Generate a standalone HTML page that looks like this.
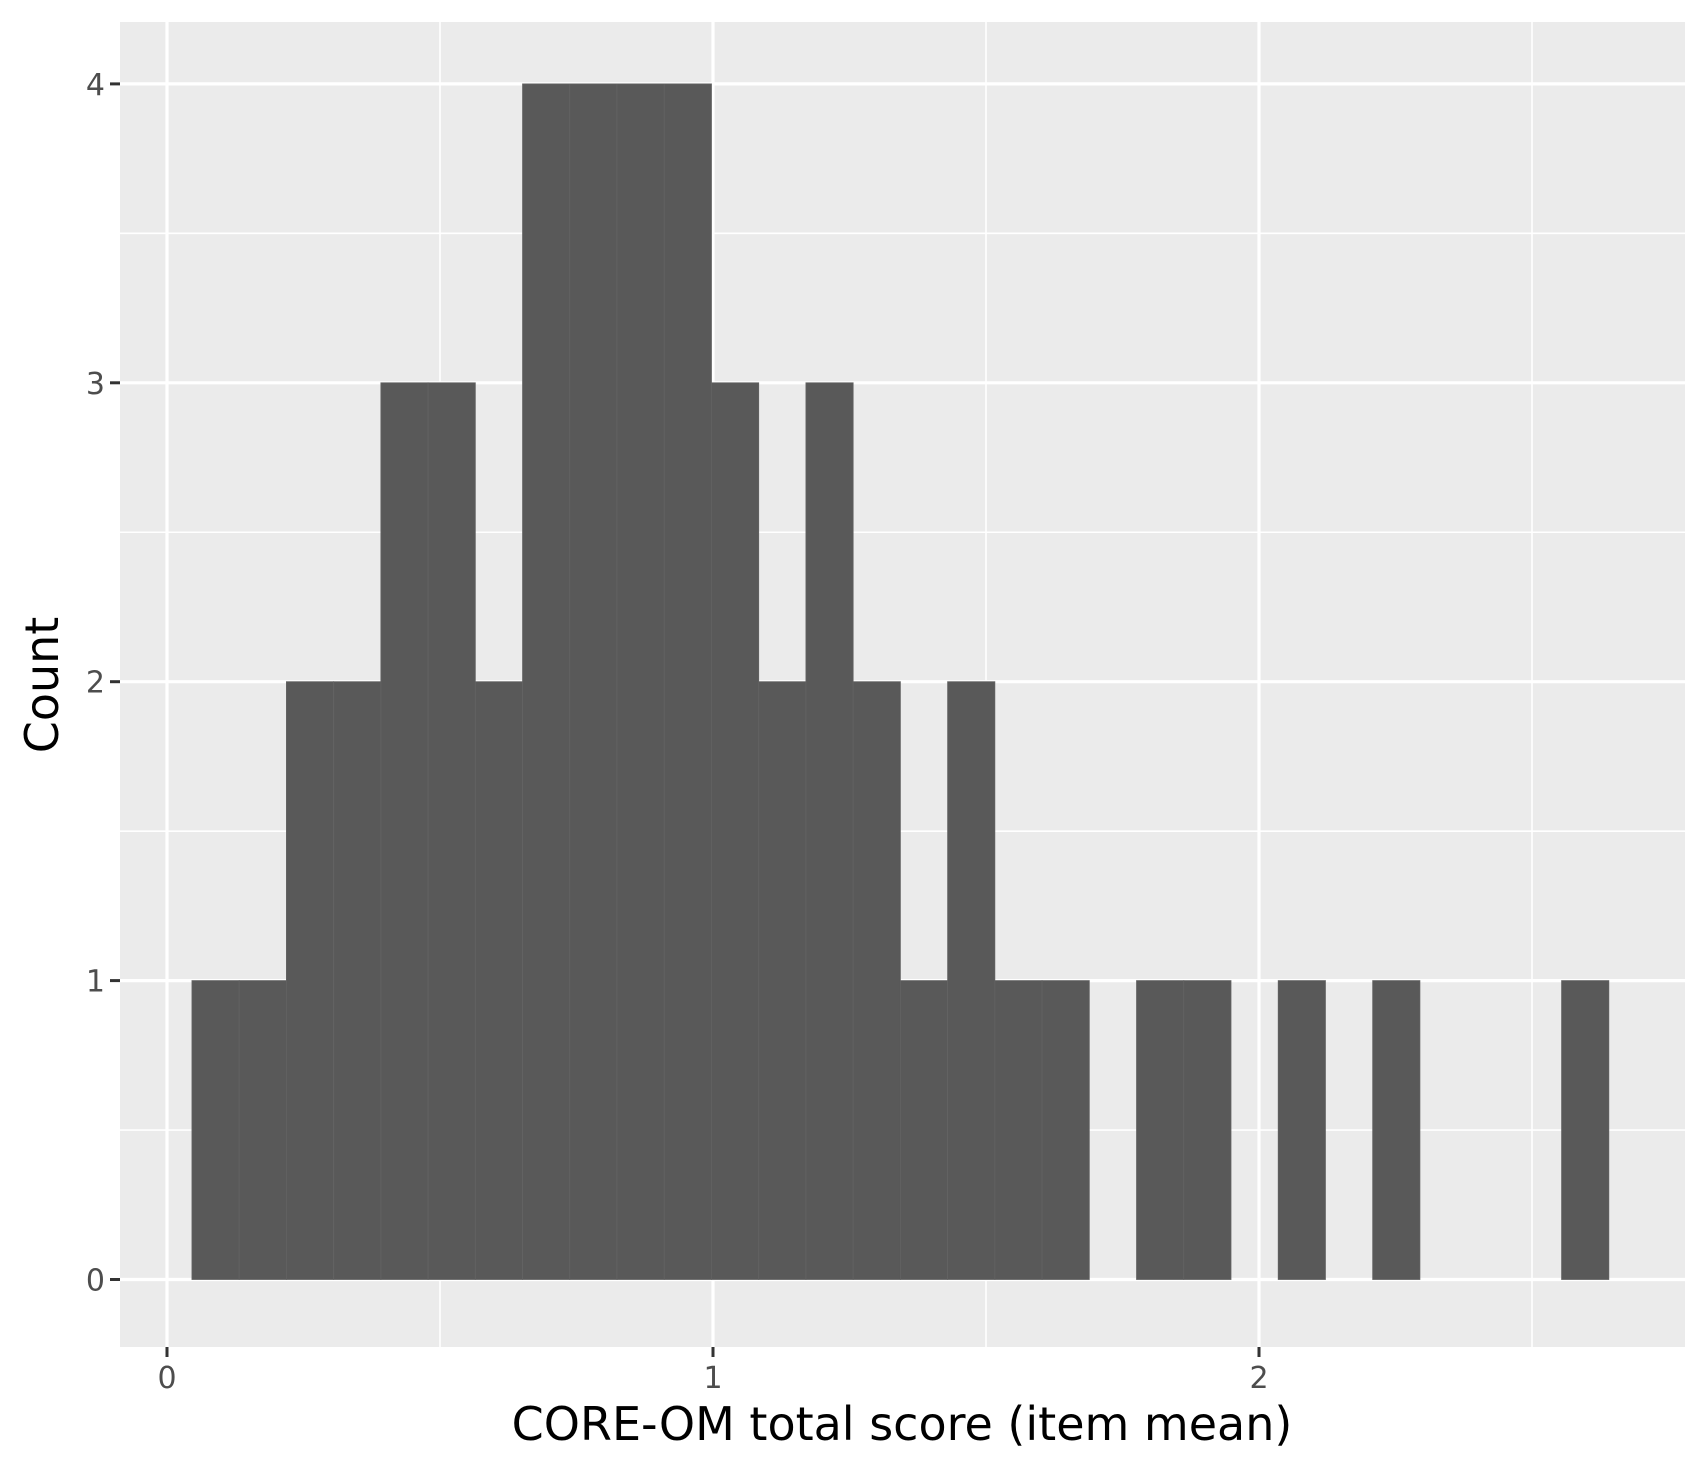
<!DOCTYPE html>
<html><head><meta charset="utf-8"><style>
html,body{margin:0;padding:0;background:#fff}
svg{display:block}
text{font-family:"DejaVu Sans","Liberation Sans",sans-serif}
</style></head><body>
<svg id="chart" width="1700" height="1470" viewBox="0 0 1700 1470" xmlns="http://www.w3.org/2000/svg">
<rect x="120" y="22" width="1565" height="1325" fill="#ebebeb"/>
<g id="grid"></g>
<g id="bars"></g>
<g id="axes"></g>
<text x="902" y="1440" font-size="46" text-anchor="middle" fill="#000">CORE-OM total score (item mean)</text>
<text transform="translate(58,685) rotate(-90)" font-size="46" text-anchor="middle" fill="#000">Count</text>
</svg>
<script>
const binStart = 0.0457;
const binWidth = 0.0865;
const counts = [1,1,2,2,3,3,2,4,4,4,4,3,2,3,2,1,2,1,1,0,1,1,0,1,0,1,0,0,0,1];
const xTicks = [0,1,2];
const xTickLabels = ["0","1","2"];
const xMinor = [0.5,1.5,2.5];
const yTicks = [0,1,2,3,4];
const yTickLabels = ["0","1","2","3","4"];
const yMinor = [0.5,1.5,2.5,3.5];

const P = {l:120,t:22,r:1685,b:1347};
const xs = v => 167 + v*546;
const ys = v => 1279.5 - v*298.9;
const NS = "http://www.w3.org/2000/svg";
function mk(tag, attrs, parent){const e=document.createElementNS(NS,tag);for(const k in attrs)e.setAttribute(k,attrs[k]);parent.appendChild(e);return e;}
const grid=document.getElementById('grid'), bars=document.getElementById('bars'), axes=document.getElementById('axes');
xMinor.forEach(v=>{const e=mk('line',{x1:xs(v),x2:xs(v),y1:P.t,y2:P.b,stroke:'#fff','stroke-width':1.6},grid);

});
yMinor.forEach(v=>{const e=mk('line',{x1:P.l,x2:P.r,y1:ys(v),y2:ys(v),stroke:'#fff','stroke-width':1.6},grid);

});
xTicks.forEach(v=>{const e=mk('line',{x1:xs(v),x2:xs(v),y1:P.t,y2:P.b,stroke:'#fff','stroke-width':3.2},grid);

});
yTicks.forEach(v=>{const e=mk('line',{x1:P.l,x2:P.r,y1:ys(v),y2:ys(v),stroke:'#fff','stroke-width':3.2},grid);

});
counts.forEach((c,i)=>{
  if(c<=0) return;
  const x0=xs(binStart+i*binWidth), x1=xs(binStart+(i+1)*binWidth);
  const r=mk('rect',{x:x0,y:ys(c),width:x1-x0,height:ys(0)-ys(c),fill:'#595959',stroke:'#636363','stroke-width':0.8},bars);
  
  
});
xTicks.forEach((v,i)=>{
  const t=mk('line',{x1:xs(v),x2:xs(v),y1:P.b,y2:P.b+10,stroke:'#333','stroke-width':3},axes);
  
  
  const l=mk('text',{x:xs(v),y:P.b+41,'font-size':30,'text-anchor':'middle',fill:'#4d4d4d'},axes);
  l.textContent=xTickLabels[i];
  
  
});
yTicks.forEach((v,i)=>{
  const t=mk('line',{x1:P.l-10,x2:P.l,y1:ys(v),y2:ys(v),stroke:'#333','stroke-width':3},axes);
  
  
  const l=mk('text',{x:P.l-15,y:ys(v)+11,'font-size':30,'text-anchor':'end',fill:'#4d4d4d'},axes);
  l.textContent=yTickLabels[i];
  
  
});
</script>
</body></html>
